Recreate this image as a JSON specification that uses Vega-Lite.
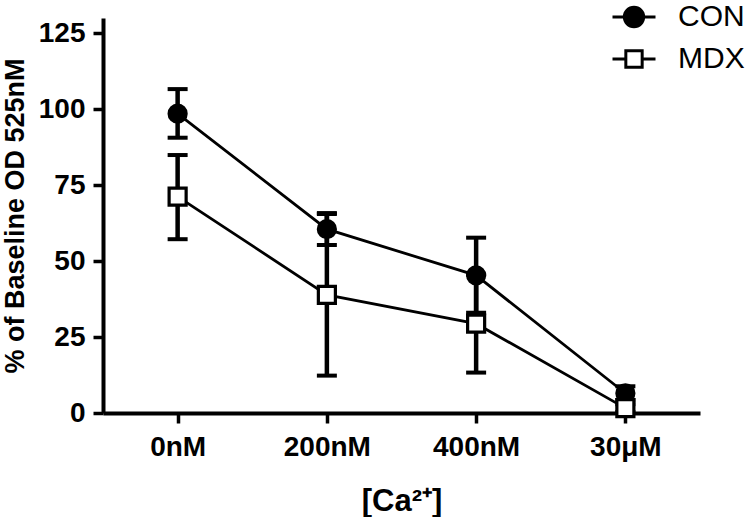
{
  "$schema": "https://vega.github.io/schema/vega-lite/v6.json",
  "width": 597,
  "height": 395,
  "autosize": "none",
  "padding": {"left": 103, "top": 18, "right": 50, "bottom": 104},
  "background": "white",
  "config": {
    "view": {"stroke": null},
    "font": "Liberation Sans",
    "axis": {
      "domainColor": "black",
      "domainWidth": 4,
      "tickColor": "black",
      "tickWidth": 3.5,
      "tickSize": 10,
      "labelColor": "black",
      "titleColor": "black",
      "labelFont": "Liberation Sans",
      "titleFont": "Liberation Sans",
      "labelFontWeight": "bold",
      "titleFontWeight": "bold",
      "labelFontSize": 28,
      "grid": false
    },
    "legend": {
      "orient": "none", "legendX": 508, "legendY": -24,
      "symbolSize": 1849, "symbolStrokeWidth": 3, "symbolStrokeColor": "black",
      "labelFontSize": 30, "labelFont": "Liberation Sans", "labelColor": "black", "labelOffset": 21, "rowPadding": 3
    }
  },
  "data": {
    "values": [
      {"group": "CON", "conc": "0nM", "mean": 98.5, "lo": 90.6, "hi": 106.6},
      {"group": "CON", "conc": "200nM", "mean": 60.5, "lo": 55.3, "hi": 65.8},
      {"group": "CON", "conc": "400nM", "mean": 45.3, "lo": 33.0, "hi": 57.7},
      {"group": "CON", "conc": "30μM", "mean": 6.5, "lo": 4.3, "hi": 8.8},
      {"group": "MDX", "conc": "0nM", "mean": 71.2, "lo": 57.2, "hi": 84.9},
      {"group": "MDX", "conc": "200nM", "mean": 38.9, "lo": 12.3, "hi": 65.5},
      {"group": "MDX", "conc": "400nM", "mean": 29.4, "lo": 13.3, "hi": 45.5},
      {"group": "MDX", "conc": "30μM", "mean": 1.6, "lo": 0.3, "hi": 2.9}
    ]
  },
  "encoding": {
    "x": {
      "field": "conc",
      "type": "ordinal",
      "scale": {"type": "point", "domain": ["0nM", "200nM", "400nM", "30μM"], "padding": 0.5},
      "axis": {"title": "[Ca²⁺]", "titleFontSize": 31, "labelAngle": 0, "labelPadding": 10, "titlePadding": 25}
    }
  },
  "layer": [
    {
      "mark": {"type": "rule", "color": "black", "strokeWidth": 4.5},
      "encoding": {
        "y": {"field": "lo", "type": "quantitative", "scale": {"domain": [0, 125]},
          "axis": {"title": "% of Baseline OD 525nM", "titleFontSize": 27, "values": [0, 25, 50, 75, 100, 125], "labelPadding": 8, "titlePadding": 9}},
        "y2": {"field": "hi"}
      }
    },
    {
      "mark": {"type": "tick", "color": "black", "orient": "horizontal", "size": 20, "thickness": 4, "opacity": 1},
      "encoding": {"y": {"field": "lo", "type": "quantitative"}}
    },
    {
      "mark": {"type": "tick", "color": "black", "orient": "horizontal", "size": 20, "thickness": 4, "opacity": 1},
      "encoding": {"y": {"field": "hi", "type": "quantitative"}}
    },
    {
      "mark": {"type": "line", "color": "black", "strokeWidth": 2.8},
      "encoding": {
        "y": {"field": "mean", "type": "quantitative"},
        "detail": {"field": "group", "type": "nominal"}
      }
    },
    {
      "mark": {"type": "point", "stroke": "black", "strokeWidth": 3.2, "size": 290, "opacity": 1},
      "encoding": {
        "y": {"field": "mean", "type": "quantitative"},
        "shape": {"field": "group", "type": "nominal", "scale": {"domain": ["CON", "MDX"], "range": ["circle", "square"]}, "legend": null},
        "fill": {"field": "group", "type": "nominal", "scale": {"domain": ["CON", "MDX"], "range": ["black", "white"]}, "legend": null}
      }
    },
    {
      "transform": [{"filter": "datum.group == 'none'"}],
      "mark": {"type": "point", "strokeWidth": 3, "opacity": 1},
      "encoding": {
        "y": {"field": "mean", "type": "quantitative"},
        "shape": {
          "field": "group", "type": "nominal",
          "scale": {"domain": ["CON", "MDX"], "range": ["M-1,0H1M0.45,0A0.45,0.45 0 1,1 -0.45,0A0.45,0.45 0 1,1 0.45,0Z", "M-1,0H-0.38M0.38,0H1M-0.38,-0.38H0.38V0.38H-0.38Z"]},
          "legend": {"title": null}
        },
        "fill": {
          "field": "group", "type": "nominal",
          "scale": {"domain": ["CON", "MDX"], "range": ["black", "white"]},
          "legend": {"title": null}
        },
        "stroke": {
          "field": "group", "type": "nominal",
          "scale": {"domain": ["CON", "MDX"], "range": ["black", "black"]},
          "legend": {"title": null}
        }
      }
    }
  ],
  "resolve": {"scale": {"shape": "independent", "fill": "independent", "stroke": "independent"}}
}
